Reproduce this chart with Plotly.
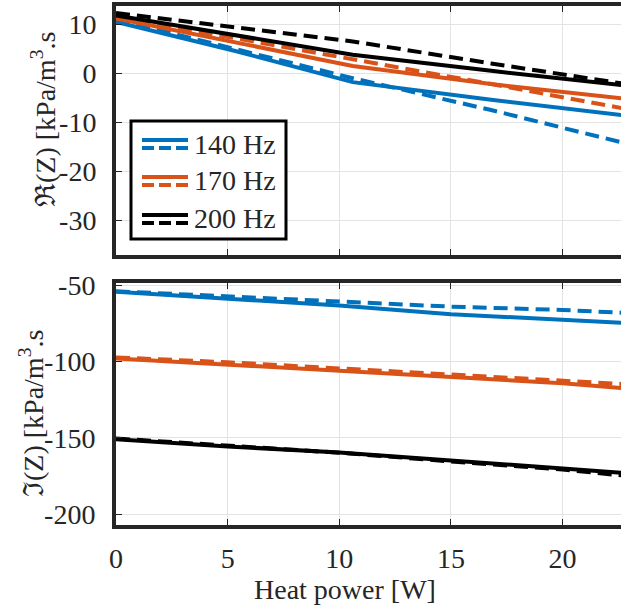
import plotly.graph_objects as go

# ---------------- data ----------------
x_re = [0, 5.3, 10.6, 16.8, 23.0]
re_140_meas = [10.5, 4.6, -1.8, -5.4, -8.7]
re_140_model = [11.0, 5.0, -1.0, -7.5, -14.5]
re_170_meas = [11.2, 6.3, 1.5, -2.2, -5.3]
re_170_model = [11.5, 7.2, 2.8, -2.2, -7.4]
re_200_meas = [11.8, 7.7, 3.8, 0.5, -2.6]
re_200_model = [12.3, 9.3, 6.5, 2.0, -2.3]

x_im = [0, 5, 10, 15, 20, 23]
im_140_meas = [-54.2, -58.5, -63.3, -69.0, -72.7, -74.8]
im_140_model = [-53.9, -57.4, -60.3, -64.0, -66.2, -68.2]
im_170_meas = [-98.0, -102.0, -106.0, -109.8, -114.2, -117.8]
im_170_model = [-97.3, -100.5, -104.5, -108.7, -112.7, -115.0]
im_200_meas = [-150.9, -155.7, -159.6, -164.9, -169.9, -173.3]
im_200_model = [-150.5, -155.3, -159.8, -165.5, -170.8, -175.2]

labels = ["140 Hz", "170 Hz", "200 Hz"]
colors = ["#0072BD", "#D95319", "#000000"]

x_ticks = [0, 5, 10, 15, 20]
x_ticktext = ["0", "5", "10", "15", "20"]
re_ticks = [-30, -20, -10, 0, 10]
re_ticktext = ["-30", "-20", "-10", "0", "10"]
im_ticks = [-200, -150, -100, -50]
im_ticktext = ["-200", "-150", "-100", "-50"]

# ---------------- layout geometry ----------------
W, H = 621, 609
ML, MR, MT, MB = 116, 0, 6, 84
PW, PH = W - ML - MR, H - MT - MB
def px(xp):
    return (xp - ML) / PW
def py(yp):
    return (H - MB - yp) / PH

FONT = "Liberation Serif, Times New Roman, serif"
AX = "#262626"
LW = 4

fig = go.Figure()
re_series = [(re_140_meas, re_140_model), (re_170_meas, re_170_model), (re_200_meas, re_200_model)]
im_series = [(im_140_meas, im_140_model), (im_170_meas, im_170_model), (im_200_meas, im_200_model)]
DASH = "14px,7px"
for i, (m, mo) in enumerate(re_series):
    fig.add_trace(go.Scatter(x=x_re, y=m, mode="lines", line=dict(color=colors[i], width=LW),
                             xaxis="x", yaxis="y", showlegend=False))
    fig.add_trace(go.Scatter(x=x_re, y=mo, mode="lines", line=dict(color=colors[i], width=LW, dash=DASH),
                             xaxis="x", yaxis="y", showlegend=False))
for i, (m, mo) in enumerate(im_series):
    fig.add_trace(go.Scatter(x=x_im, y=m, mode="lines", line=dict(color=colors[i], width=LW),
                             xaxis="x2", yaxis="y2", showlegend=False))
    fig.add_trace(go.Scatter(x=x_im, y=mo, mode="lines", line=dict(color=colors[i], width=LW, dash=DASH),
                             xaxis="x2", yaxis="y2", showlegend=False))

FS = 28
tickfont = dict(family=FONT, size=FS, color=AX)
common = dict(showline=True, linewidth=4, linecolor=AX, ticks="inside", ticklen=6, tickwidth=1,
              tickcolor=AX, showgrid=True, gridcolor="#e3e3e3", gridwidth=1, zeroline=False,
              tickfont=tickfont)
xr = [0, (W - ML) / 22.33]
fig.update_layout(
    width=W, height=H, margin=dict(l=ML, r=MR, t=MT, b=MB, autoexpand=False),
    paper_bgcolor="white", plot_bgcolor="white", showlegend=False,
    xaxis=dict(domain=[0, 1], range=xr, anchor="y", tickvals=x_ticks, ticktext=x_ticktext,
               showticklabels=False, mirror="ticks", **common),
    yaxis=dict(domain=[py(255), 1], range=[-37.08, 13.73], anchor="x", tickvals=re_ticks,
               ticktext=re_ticktext, mirror=False, ticklabelstandoff=10, **common),
    xaxis2=dict(domain=[0, 1], range=xr, anchor="y2", tickvals=x_ticks, ticktext=x_ticktext,
                mirror="ticks", ticklabelstandoff=5, **common),
    yaxis2=dict(domain=[0, py(283)], range=[-207.2, -48.5], anchor="x2", tickvals=im_ticks,
                ticktext=im_ticktext, mirror=False, ticklabelstandoff=11, **common),
)

titlefont = dict(family=FONT, size=FS, color=AX)
ann = []
ann.append(dict(text="ℜ(Z) [kPa/m<sup>3</sup>.s", x=px(43), y=py(120), xref="paper", yref="paper",
                textangle=-90, showarrow=False, font=titlefont, xanchor="center", yanchor="middle"))
ann.append(dict(text="ℑ(Z) [kPa/m<sup>3</sup>.s", x=px(31), y=py(414), xref="paper", yref="paper",
                textangle=-90, showarrow=False, font=titlefont, xanchor="center", yanchor="middle"))
ann.append(dict(text="Heat power [W]", x=px(345), y=py(589), xref="paper", yref="paper",
                showarrow=False, font=titlefont, xanchor="center", yanchor="middle"))

# custom legend (solid + dashed sample per entry)
shapes = [dict(type="rect", xref="paper", yref="paper", x0=px(131), x1=px(286), y0=py(239), y1=py(121),
               line=dict(color="black", width=3), fillcolor="white", layer="above")]
solid_y = [140, 177, 215]
for i, lab in enumerate(labels):
    ys = solid_y[i]
    shapes.append(dict(type="line", xref="paper", yref="paper", x0=px(142), x1=px(188), y0=py(ys), y1=py(ys),
                       line=dict(color=colors[i], width=LW), layer="above"))
    shapes.append(dict(type="line", xref="paper", yref="paper", x0=px(142), x1=px(188), y0=py(ys + 8),
                       y1=py(ys + 8), line=dict(color=colors[i], width=LW, dash="12px,5px"), layer="above"))
    ann.append(dict(text=lab, x=px(192), y=py(ys + 4), xref="paper", yref="paper", showarrow=False,
                    font=titlefont, xanchor="left", yanchor="middle"))

fig.update_layout(annotations=ann, shapes=shapes)
fig.write_html("out.html", post_script="document.body.style.margin='0';",
               config={"displayModeBar": False})
